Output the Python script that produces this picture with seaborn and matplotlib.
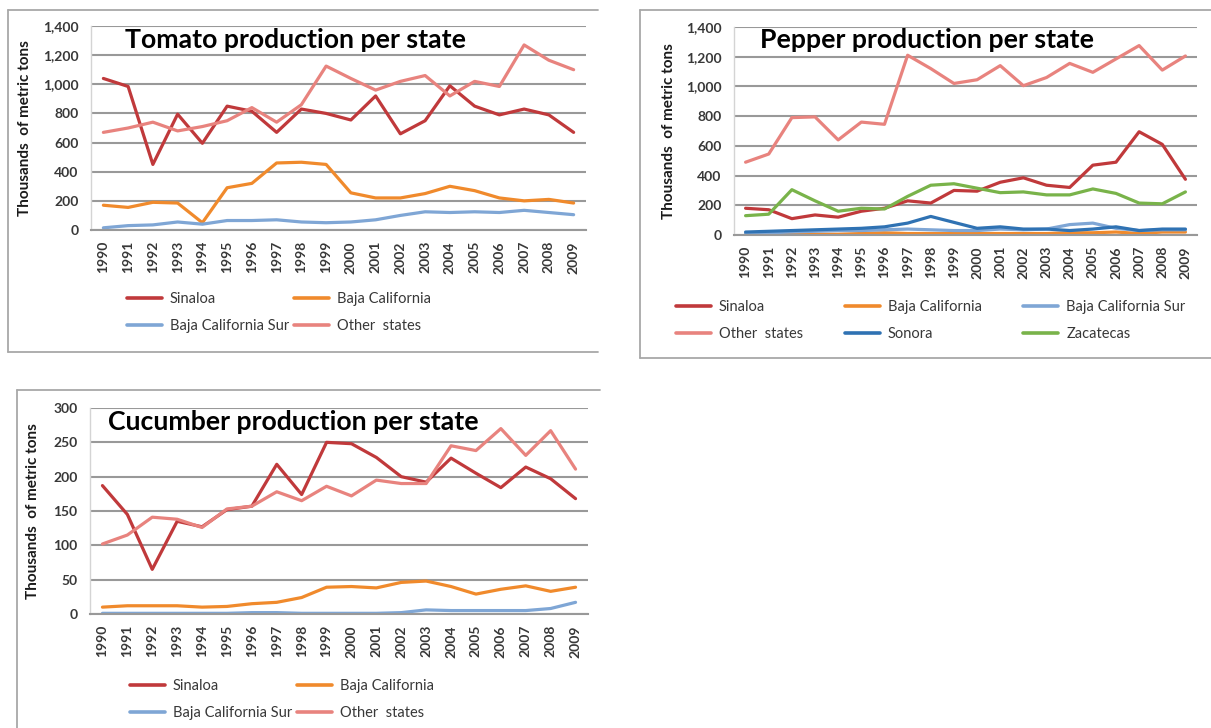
import matplotlib
matplotlib.use("Agg")
import matplotlib.pyplot as plt
from matplotlib.lines import Line2D
from matplotlib.ticker import FuncFormatter, MultipleLocator
import numpy as np
import pandas as pd
import seaborn as sns

# ---------------- data (thousands of metric tons) ----------------
years = list(range(1990, 2010))

tomato_sinaloa = [1040, 985, 450, 795, 595, 850, 815, 670, 830, 800,
                  755, 920, 660, 750, 990, 850, 790, 830, 790, 670]
tomato_baja = [170, 155, 190, 185, 50, 290, 320, 460, 465, 450,
               255, 220, 220, 250, 300, 270, 220, 200, 210, 185]
tomato_bcs = [15, 30, 35, 55, 40, 65, 65, 70, 55, 50,
              55, 70, 100, 125, 120, 125, 120, 135, 120, 105]
tomato_other = [670, 700, 740, 680, 710, 750, 840, 740, 860, 1125,
                1040, 960, 1020, 1060, 920, 1020, 985, 1270, 1165, 1100]

pepper_sinaloa = [180, 170, 110, 135, 120, 160, 180, 230, 215, 300,
                  295, 355, 385, 335, 320, 470, 490, 695, 610, 375]
pepper_baja = [5, 5, 5, 5, 5, 10, 15, 10, 10, 10,
               10, 10, 10, 10, 15, 15, 20, 10, 20, 20]
pepper_bcs = [10, 15, 20, 25, 30, 30, 35, 40, 35, 30,
              30, 40, 35, 40, 70, 80, 45, 30, 35, 35]
pepper_other = [490, 545, 790, 795, 640, 760, 745, 1210, 1120, 1020,
                1045, 1140, 1005, 1060, 1155, 1095, 1185, 1275, 1110, 1205]
pepper_sonora = [20, 25, 30, 35, 40, 45, 55, 80, 125, 85,
                 45, 55, 40, 40, 30, 40, 55, 30, 40, 40]
pepper_zacatecas = [130, 140, 305, 230, 160, 180, 175, 260, 335, 345,
                    315, 285, 290, 270, 270, 310, 280, 215, 210, 290]

cucumber_sinaloa = [187, 145, 65, 135, 127, 152, 157, 218, 174, 250,
                    248, 228, 200, 192, 227, 205, 184, 214, 197, 168]
cucumber_baja = [10, 12, 12, 12, 10, 11, 15, 17, 24, 39,
                 40, 38, 46, 48, 40, 29, 36, 41, 33, 39]
cucumber_bcs = [1, 1, 1, 1, 1, 1, 2, 2, 1, 1,
                1, 1, 2, 6, 5, 5, 5, 5, 8, 17]
cucumber_other = [102, 115, 141, 138, 126, 153, 157, 178, 165, 186,
                  172, 195, 190, 190, 245, 238, 270, 231, 267, 211]

colors = {
    "Sinaloa": "#C0393B",
    "Baja California": "#F08A2C",
    "Baja California Sur": "#7FA6D5",
    "Other  states": "#E8837E",
    "Sonora": "#2F72B3",
    "Zacatecas": "#79B34A",
}

# ---------------- style ----------------
sns.set_style("white")
plt.rcParams["font.family"] = ["Lato", "DejaVu Sans"]

W, H = 1211, 728
fig = plt.figure(figsize=(W / 100, H / 100), dpi=100)
fig.patch.set_facecolor("white")

GRID = "#999999"
TXT = "#383838"


def px_axes(left, top, right, bottom):
    return fig.add_axes([left / W, 1 - bottom / H, (right - left) / W, (bottom - top) / H])


def frame(left, top, right, bottom):
    kw = dict(color="#A8A8A8", lw=1.3, transform=fig.transFigure)
    fig.add_artist(Line2D([left / W, right / W], [1 - top / H, 1 - top / H], **kw))
    fig.add_artist(Line2D([left / W, left / W], [1 - top / H, 1 - bottom / H], **kw))
    if bottom < H:
        fig.add_artist(Line2D([left / W, right / W], [1 - bottom / H, 1 - bottom / H], **kw))


def panel(box, frame_box, title, series, ymax, ystep, title_xy, legend_rows, legend_anchor,
          ncol, colspace, ylabel_x):
    ax = px_axes(*box)
    names = list(series.keys())
    df = pd.DataFrame({
        "Year": np.tile(years, len(names)),
        "Value": np.concatenate([series[n] for n in names]),
        "State": np.repeat(names, len(years)),
    })
    sns.lineplot(data=df, x="Year", y="Value", hue="State", hue_order=names,
                 palette=[colors[n] for n in names], linewidth=2.3, ax=ax,
                 legend=False, sort=False)

    ax.set_xlim(years[0] - 0.5, years[-1] + 0.5)
    ax.set_ylim(0, ymax)
    ax.yaxis.set_major_locator(MultipleLocator(ystep))
    ax.yaxis.set_major_formatter(FuncFormatter(lambda v, p: f"{v:,.0f}"))
    ax.set_xticks(years)
    ax.set_xticklabels([str(y) for y in years], rotation=90, fontsize=10,
                       fontweight="bold", color=TXT)
    ax.set_xticks(np.arange(years[0] - 0.5, years[-1] + 1), minor=True)
    ax.tick_params(axis="x", which="major", length=0, pad=8)
    ax.tick_params(axis="x", which="minor", length=4, color="#B0B0B0", width=0.8, direction="out")
    ax.tick_params(axis="y", length=0, pad=9, labelsize=10, labelcolor=TXT)
    for lab in ax.get_yticklabels():
        lab.set_fontweight("bold")
    ax.grid(axis="y", color=GRID, lw=1.5)
    ax.set_axisbelow(True)
    for s in ["top", "right"]:
        ax.spines[s].set_visible(False)
    ax.spines["left"].set_color("#D4D4D4")
    ax.spines["left"].set_linewidth(1.0)
    ax.spines["bottom"].set_color(GRID)
    ax.spines["bottom"].set_linewidth(1.5)

    ax.set_xlabel("")
    ax.set_ylabel("Thousands  of metric tons", fontsize=11, fontweight="bold", color="#1A1A1A")
    ax.yaxis.set_label_coords(ylabel_x, 0.5)

    fig.text(title_xy[0] / W, 1 - title_xy[1] / H, title, fontsize=19.2, fontweight="bold",
             color="black", ha="left", va="center")

    # legend entries laid out row by row, filled column-major by matplotlib
    nrow = len(legend_rows)
    order = [legend_rows[r][c] for c in range(ncol) for r in range(nrow) if c < len(legend_rows[r])]
    handles = [Line2D([], [], color=colors[n], lw=2.6) for n in order]
    leg = ax.legend(handles, order, ncol=ncol, loc="upper left",
                    bbox_to_anchor=(legend_anchor[0] / W, 1 - legend_anchor[1] / H),
                    bbox_transform=fig.transFigure, frameon=False, fontsize=10.5,
                    handlelength=2.4, handletextpad=0.55, columnspacing=colspace,
                    labelspacing=0.9, borderaxespad=0, borderpad=0)
    for t in leg.get_texts():
        t.set_color(TXT)
    frame(*frame_box)
    return ax


panel(box=(91, 26, 586, 230), frame_box=(8, 10, 598, 352),
      title="Tomato production per state",
      series={"Sinaloa": tomato_sinaloa, "Baja California": tomato_baja,
              "Baja California Sur": tomato_bcs, "Other  states": tomato_other},
      ymax=1400, ystep=200, title_xy=(125, 40),
      legend_rows=[["Sinaloa", "Baja California"], ["Baja California Sur", "Other  states"]],
      legend_anchor=(127, 292), ncol=2, colspace=0.35, ylabel_x=-0.12)

panel(box=(734, 27, 1197, 235), frame_box=(640, 10, 1211, 358),
      title="Pepper production per state",
      series={"Sinaloa": pepper_sinaloa, "Baja California": pepper_baja,
              "Baja California Sur": pepper_bcs, "Other  states": pepper_other,
              "Sonora": pepper_sonora, "Zacatecas": pepper_zacatecas},
      ymax=1400, ystep=200, title_xy=(760, 40),
      legend_rows=[["Sinaloa", "Baja California", "Baja California Sur"],
                   ["Other  states", "Sonora", "Zacatecas"]],
      legend_anchor=(676, 300), ncol=3, colspace=2.85, ylabel_x=-0.125)

panel(box=(90, 408, 588, 614), frame_box=(17, 390, 600, 740),
      title="Cucumber production per state",
      series={"Sinaloa": cucumber_sinaloa, "Baja California": cucumber_baja,
              "Baja California Sur": cucumber_bcs, "Other  states": cucumber_other},
      ymax=300, ystep=50, title_xy=(108, 422),
      legend_rows=[["Sinaloa", "Baja California"], ["Baja California Sur", "Other  states"]],
      legend_anchor=(130, 679), ncol=2, colspace=0.35, ylabel_x=-0.1)

fig.savefig("out.png", dpi=100, facecolor="white")
